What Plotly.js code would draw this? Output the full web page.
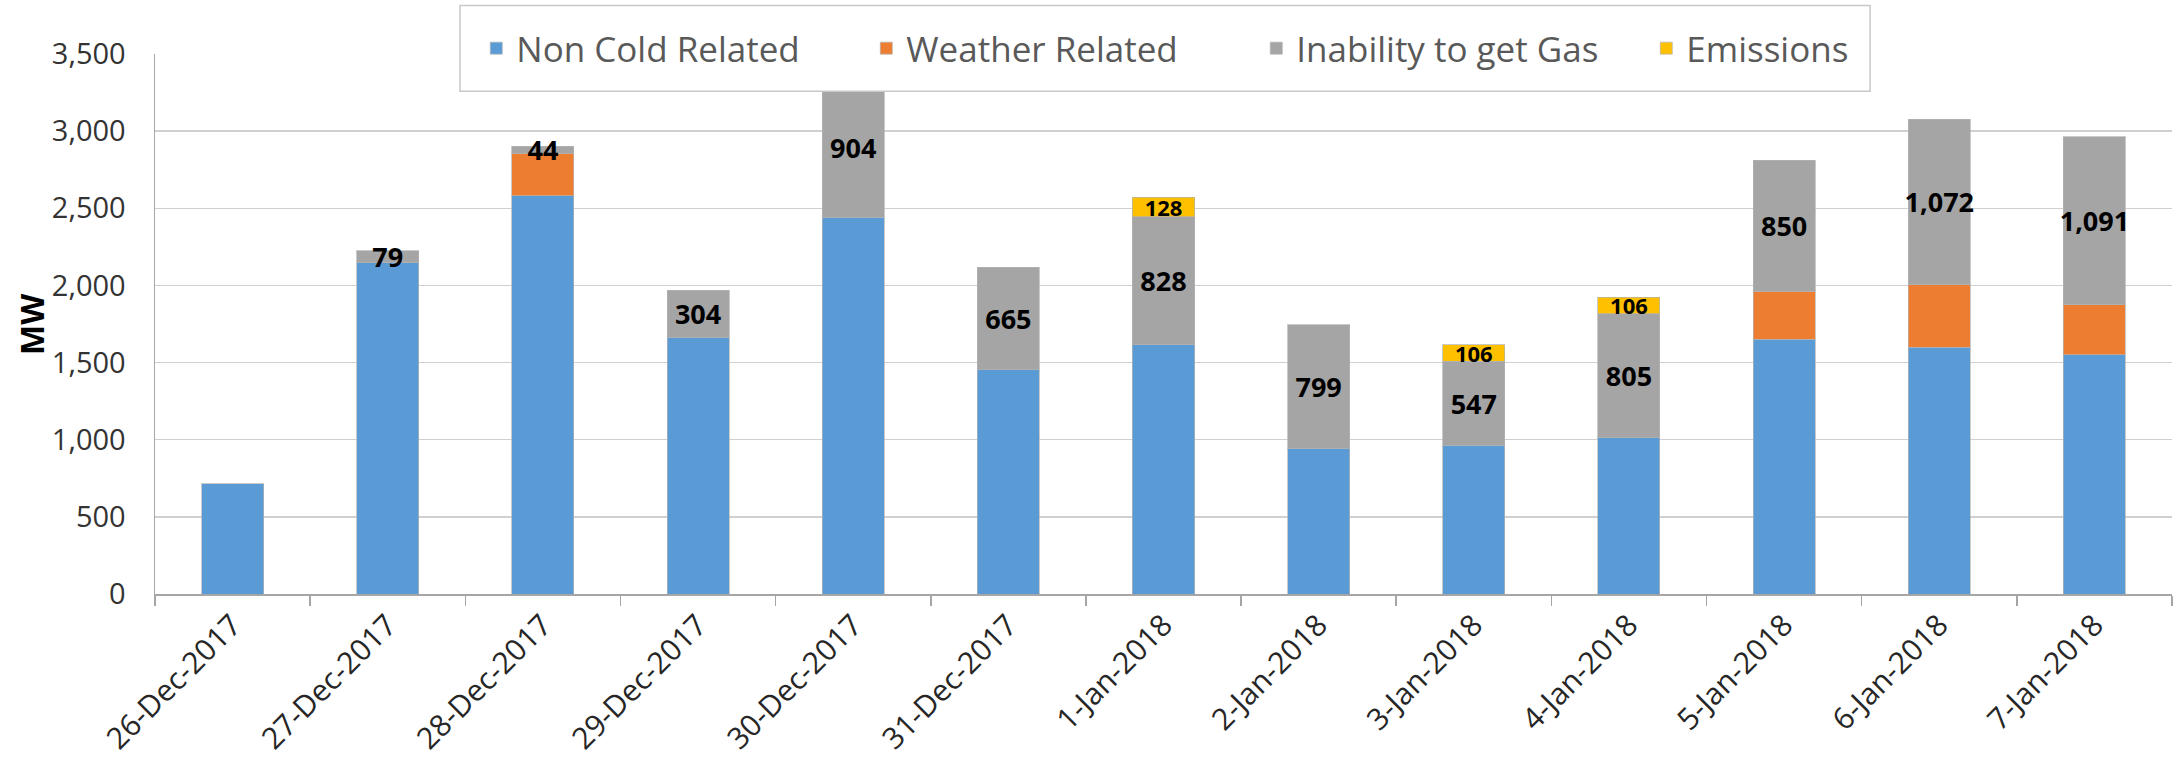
<!DOCTYPE html>
<html>
<head>
<meta charset="utf-8">
<script src="https://cdn.plot.ly/plotly-3.0.1.min.js"></script>
<style>html,body{margin:0;padding:0;background:#fff;}</style>
</head>
<body>
<div id="chart" style="width:2178px;height:777px;"></div>
<script>
const categories = ['26-Dec-2017','27-Dec-2017','28-Dec-2017','29-Dec-2017','30-Dec-2017','31-Dec-2017','1-Jan-2018','2-Jan-2018','3-Jan-2018','4-Jan-2018','5-Jan-2018','6-Jan-2018','7-Jan-2018'];
const nonColdRelated = [715, 2146, 2582, 1665, 2442, 1452, 1616, 945, 963, 1013, 1650, 1600, 1552];
const weatherRelated = [null, null, 276, null, null, null, null, null, null, null, 312, 405, 322];
const inabilityToGetGas = [null, 79, 44, 304, 904, 665, 828, 799, 547, 805, 850, 1072, 1091];
const emissions = [null, null, null, null, null, null, 128, null, 106, 106, null, null, null];
const seriesNames = ['Non Cold Related', 'Weather Related', 'Inability to get Gas', 'Emissions'];
const yTickValues = [0, 500, 1000, 1500, 2000, 2500, 3000, 3500];
const yAxisTitle = 'MW';

const FONT = 'Open Sans, Lato, sans-serif';
const barLine = {color: 'rgba(180,180,180,0.7)', width: 1};

const traces = [
  {type:'bar', name: seriesNames[0], x: categories, y: nonColdRelated,
   marker:{color:'#5B9BD5', line: barLine}},
  {type:'bar', name: seriesNames[1], x: categories, y: weatherRelated,
   marker:{color:'#ED7D31', line: barLine}},
  {type:'bar', name: seriesNames[2], x: categories, y: inabilityToGetGas,
   marker:{color:'#A5A5A5', line: barLine},
   texttemplate:'%{y:,}', textposition:'inside', insidetextanchor:'middle',
   textangle:0, constraintext:'none',
   textfont:{family:FONT, size:27, color:'#000000', weight:'bold'}},
  {type:'bar', name: seriesNames[3], x: categories, y: emissions,
   marker:{color:'#FFC000', line: barLine},
   texttemplate:'%{y:,}', textposition:'inside', insidetextanchor:'middle',
   textangle:0, constraintext:'none',
   textfont:{family:FONT, size:22, color:'#000000', weight:'bold'}}
];

const layout = {
  width: 2178, height: 777,
  margin: {l:155, r:6, t:54, b:183, pad:0},
  paper_bgcolor:'#ffffff', plot_bgcolor:'#ffffff',
  barmode:'stack', bargap:0.6,
  font:{family:FONT, color:'#333333'},
  showlegend:true,
  legend:{orientation:'h', x:0.546, xanchor:'center', y:1.0104, yanchor:'middle',
          bgcolor:'rgba(0,0,0,0)', borderwidth:0, entrywidth:345, entrywidthmode:'pixels',
          traceorder:'normal',
          font:{family:FONT, size:35, color:'#595959'}},
  xaxis:{type:'category', tickson:'boundaries', ticks:'outside', ticklen:10, tickwidth:1.5,
         tickcolor:'#A6A6A6', showline:true, linecolor:'#A6A6A6', linewidth:1.5,
         showgrid:false, tickangle:-45, zeroline:false,
         tickfont:{family:FONT, size:30, color:'#262626'}},
  yaxis:{range:[0,3500], tickvals:yTickValues, tickformat:',d', ticks:'',
         showline:true, linecolor:'#A6A6A6', linewidth:1.5,
         showgrid:true, gridcolor:'#D0D0D0', gridwidth:1.5, zeroline:false,
         ticklabelstandoff:22,
         tickfont:{family:FONT, size:29, color:'#333333'}},
  annotations:[{text: yAxisTitle, xref:'paper', yref:'paper', x:-0.0615, y:0.5,
                xanchor:'center', yanchor:'middle', textangle:-90, showarrow:false,
                font:{family:FONT, size:32, color:'#000000', weight:'bold'}}],
  shapes:[{type:'rect', xref:'paper', yref:'paper', layer:'above',
           x0:0.1512, x1:0.8503, y0:0.9308, y1:1.0899,
           fillcolor:'#ffffff', line:{color:'#C8C8C8', width:1.5}}]
};

Plotly.newPlot('chart', traces, layout, {displayModeBar:false, staticPlot:true});
</script>
</body>
</html>
